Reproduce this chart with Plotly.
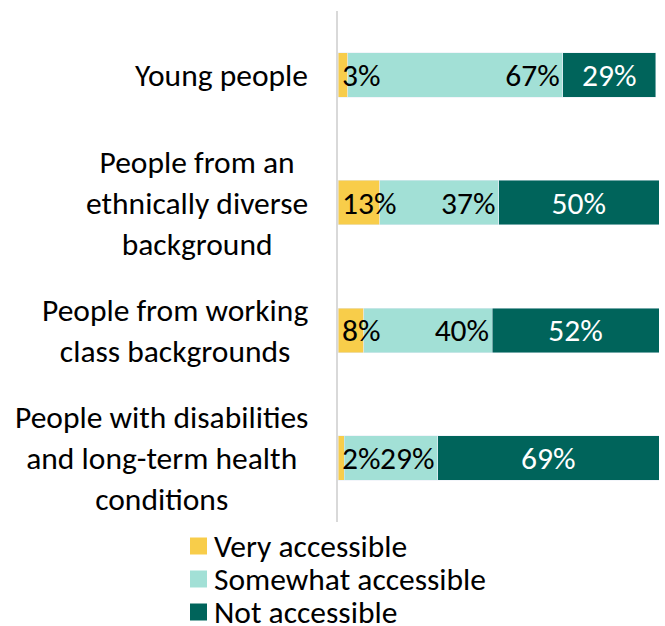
import plotly.graph_objects as go

categories = ["Young people",
              "People from an<br>ethnically diverse<br>background",
              "People from working<br>class backgrounds",
              "People with disabilities<br>and long-term health<br>conditions"]
series_names = ["Very accessible", "Somewhat accessible", "Not accessible"]
very = [3, 13, 8, 2]
somewhat = [67, 37, 40, 29]
not_acc = [29, 50, 52, 69]
colors = ["#F8CD4A", "#A2E0D6", "#00645B"]

FONT = "Calibri, Carlito, Lato, sans-serif"
ids = list(range(len(categories)))

# plot area in pixels
L, R, T, B = 338, 659, 11, 522


def px_x(px):
    return (px - L) / (R - L)


def px_y(py):
    return (B - py) / (B - T)


fig = go.Figure()
fig.add_trace(go.Bar(y=ids, x=very, orientation="h", marker_color=colors[0],
                     width=0.35, name=series_names[0], showlegend=False,
                     hoverinfo="skip"))
fig.add_trace(go.Bar(y=ids, x=somewhat, orientation="h", marker_color=colors[1],
                     width=0.35, name=series_names[1], showlegend=False,
                     text=[f"{v}%" for v in somewhat], textposition="inside",
                     insidetextanchor="end",
                     textfont=dict(family=FONT, size=31.5, color="#000000"),
                     hoverinfo="skip"))
fig.add_trace(go.Bar(y=ids, x=not_acc, orientation="h", marker_color=colors[2],
                     width=0.35, name=series_names[2], showlegend=False,
                     text=[f"{v}%" for v in not_acc], textposition="inside",
                     insidetextanchor="middle",
                     textfont=dict(family=FONT, size=31.5, color="#FFFFFF"),
                     hoverinfo="skip"))

annotations = []
shapes = []
for i, v in enumerate(very):
    annotations.append(dict(x=0, y=i, xref="x", yref="y", text=f"{v}%",
                            xanchor="left", xshift=2, showarrow=False,
                            font=dict(family=FONT, size=31.5, color="#000000")))
for i, cat in enumerate(categories):
    annotations.append(dict(x=0, y=i, xref="x", yref="y", text=cat,
                            xanchor="right", xshift=-28, align="center",
                            showarrow=False,
                            font=dict(family=FONT, size=31.5, color="#000000")))

# legend (tight line spacing as in the original)
for k, (name, c) in enumerate(zip(series_names, colors)):
    cy = 546 + 33 * k
    shapes.append(dict(type="rect", xref="paper", yref="paper",
                       x0=px_x(190), x1=px_x(207),
                       y0=px_y(cy + 8.5), y1=px_y(cy - 8.5),
                       fillcolor=c, line=dict(width=0)))
    annotations.append(dict(x=px_x(212), y=px_y(cy), xref="paper", yref="paper",
                            text=name, xanchor="left", yanchor="middle",
                            showarrow=False,
                            font=dict(family=FONT, size=31.5, color="#000000")))

fig.update_layout(
    width=665, height=626,
    margin=dict(l=L, r=665 - R, t=T, b=626 - B, autoexpand=False),
    barmode="stack",
    showlegend=False,
    plot_bgcolor="white", paper_bgcolor="white",
    xaxis=dict(range=[0, 100], visible=False, fixedrange=True),
    yaxis=dict(range=[3.5, -0.5], showticklabels=False, ticks="",
               showgrid=False, zeroline=False, showline=True,
               linecolor="#D9D9D9", linewidth=2),
    annotations=annotations,
    shapes=shapes,
    uniformtext=dict(mode="show", minsize=10),
)
fig.write_html("out.html")
